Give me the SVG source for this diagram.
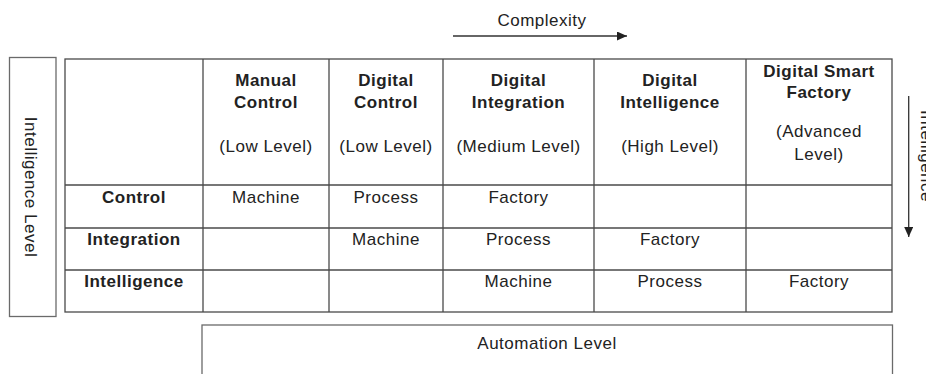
<svg xmlns="http://www.w3.org/2000/svg" width="926" height="374" viewBox="0 0 926 374">
<style>
text{font-family:"Liberation Sans",Arial,sans-serif;font-size:17px;fill:#222;letter-spacing:0.5px}
.b{font-weight:bold}
.m{text-anchor:middle}
.grid{stroke:#4a4a4a;stroke-width:1.3;fill:none}
.box{stroke:#6a6a6a;stroke-width:1.3;fill:none}
.conn{stroke:#333;stroke-width:1.3;fill:none}
</style>
<defs>
<marker id="ah" markerWidth="10" markerHeight="9" refX="10" refY="4.5" orient="auto" markerUnits="userSpaceOnUse">
<path d="M0,0 L10,4.5 L0,9 Z" fill="#222"/>
</marker>
</defs>
<rect width="926" height="374" fill="#fff"/>
<g id="connectors">
<line class="conn" x1="453" y1="36" x2="627" y2="36" marker-end="url(#ah)"/>
<line class="conn" x1="908.7" y1="96" x2="908.7" y2="237" marker-end="url(#ah)"/>
</g>
<g id="complexity-label">
<text class="m" x="542" y="26">Complexity</text>
</g>
<g id="intelligence-axis-label">
<text class="m" transform="translate(921,156) rotate(90)">Intelligence</text>
</g>
<g id="intelligence-level">
<rect class="box" x="9.5" y="57.5" width="46.5" height="259"/>
<text class="m" transform="translate(25,187) rotate(90)">Intelligence Level</text>
</g>
<g id="table">
<rect class="grid" x="65" y="59" width="827" height="253"/>
<line class="grid" x1="203" y1="59" x2="203" y2="312"/>
<line class="grid" x1="329" y1="59" x2="329" y2="312"/>
<line class="grid" x1="443" y1="59" x2="443" y2="312"/>
<line class="grid" x1="594" y1="59" x2="594" y2="312"/>
<line class="grid" x1="746" y1="59" x2="746" y2="312"/>
<line class="grid" x1="65" y1="185" x2="892" y2="185"/>
<line class="grid" x1="65" y1="228" x2="892" y2="228"/>
<line class="grid" x1="65" y1="270" x2="892" y2="270"/>
</g>
<g id="header-manual-control">
<text class="m b" x="266" y="86">Manual</text>
<text class="m b" x="266" y="107.5">Control</text>
<text class="m" x="266" y="151.5">(Low Level)</text>
</g>
<g id="header-digital-control">
<text class="m b" x="386" y="86">Digital</text>
<text class="m b" x="386" y="107.5">Control</text>
<text class="m" x="386" y="151.5">(Low Level)</text>
</g>
<g id="header-digital-integration">
<text class="m b" x="518.5" y="86">Digital</text>
<text class="m b" x="518.5" y="107.5">Integration</text>
<text class="m" x="518.5" y="151.5">(Medium Level)</text>
</g>
<g id="header-digital-intelligence">
<text class="m b" x="670" y="86">Digital</text>
<text class="m b" x="670" y="107.5">Intelligence</text>
<text class="m" x="670" y="151.5">(High Level)</text>
</g>
<g id="header-digital-smart-factory">
<text class="m b" x="819" y="77">Digital Smart</text>
<text class="m b" x="819" y="98">Factory</text>
<text class="m" x="819" y="137">(Advanced</text>
<text class="m" x="819" y="160">Level)</text>
</g>
<g id="row-control">
<text class="m b" x="134" y="202.5">Control</text>
<text class="m" x="266" y="202.5">Machine</text>
<text class="m" x="386" y="202.5">Process</text>
<text class="m" x="518.5" y="202.5">Factory</text>
</g>
<g id="row-integration">
<text class="m b" x="134" y="244.5">Integration</text>
<text class="m" x="386" y="244.5">Machine</text>
<text class="m" x="518.5" y="244.5">Process</text>
<text class="m" x="670" y="244.5">Factory</text>
</g>
<g id="row-intelligence">
<text class="m b" x="134" y="286.5">Intelligence</text>
<text class="m" x="518.5" y="286.5">Machine</text>
<text class="m" x="670" y="286.5">Process</text>
<text class="m" x="819" y="286.5">Factory</text>
</g>
<g id="automation-level">
<rect class="box" x="202" y="325" width="690.5" height="70"/>
<text class="m" x="547" y="348.5">Automation Level</text>
</g>
</svg>
